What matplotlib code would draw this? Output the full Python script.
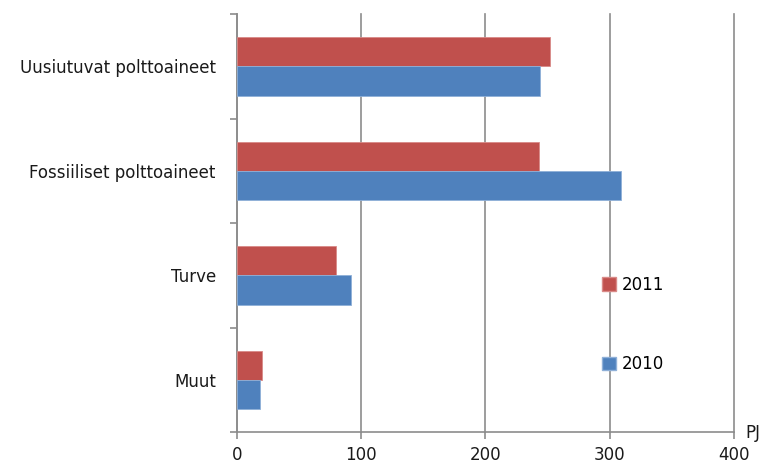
import matplotlib
matplotlib.use("Agg")
import matplotlib.pyplot as plt
import numpy as np
from matplotlib.patches import Patch

categories = ["Muut", "Turve", "Fossiiliset polttoaineet", "Uusiutuvat polttoaineet"]
values_2010 = [19, 92, 309, 244]
values_2011 = [20, 80, 243, 252]
series_labels = ["2011", "2010"]
x_ticks = [0, 100, 200, 300, 400]
unit_label = "PJ"

red = "#C0504D"
blue = "#4F81BD"
grid_col = "#8c8c8c"
fs = 12

plt.rcParams["font.family"] = ["DejaVu Sans"]

fig = plt.figure(figsize=(7.65, 4.68), dpi=100)
ax = fig.add_axes([0.3094, 0.0763, 0.6501, 0.8937])

y = np.arange(len(categories))
h = 0.28
ax.barh(y + h / 2, values_2011, height=h, color=red, edgecolor="#d98a88",
        linewidth=0.6, zorder=3)
ax.barh(y - h / 2, values_2010, height=h, color=blue, edgecolor="#8fb0d8",
        linewidth=0.6, zorder=3)

ax.set_xlim(0, 400)
ax.set_ylim(-0.5, len(categories) - 0.5)

# vertical gridlines
ax.set_xticks(x_ticks)
ax.xaxis.grid(True, color=grid_col, linewidth=1.2, zorder=0)
for gl in ax.get_xgridlines():
    gl.set_clip_on(False)
ax.tick_params(axis="x", direction="out", length=5, width=1.2, color=grid_col,
               labelsize=fs, pad=5, labelcolor="#1a1a1a")

# category boundaries as major ticks, names on minor ticks
ax.set_yticks(np.arange(-0.5, len(categories), 1.0))
ax.set_yticklabels([])
ax.set_yticks(y, minor=True)
ax.set_yticklabels(categories, minor=True)
ax.tick_params(axis="y", which="major", direction="out", length=5, width=1.2,
               color=grid_col)
ax.tick_params(axis="y", which="minor", length=0, pad=15, labelsize=fs,
               labelcolor="#1a1a1a")

for side in ["top", "right"]:
    ax.spines[side].set_visible(False)
for side in ["left", "bottom"]:
    ax.spines[side].set_color(grid_col)
    ax.spines[side].set_linewidth(1.2)

ax.text(1.022, -0.002, unit_label, transform=ax.transAxes, ha="left",
        va="center", fontsize=fs, color="#1a1a1a")

handles = [Patch(facecolor=red, edgecolor="#d98a88"),
           Patch(facecolor=blue, edgecolor="#8fb0d8")]
ax.legend(handles, series_labels, loc="center left",
          bbox_to_anchor=(0.7866, 0.3066), bbox_transform=fig.transFigure,
          frameon=False, borderpad=0, borderaxespad=0, fontsize=fs,
          handlelength=0.85, handleheight=0.85, handletextpad=0.35,
          labelspacing=3.7)

fig.savefig("out.png", dpi=100, facecolor="white")
